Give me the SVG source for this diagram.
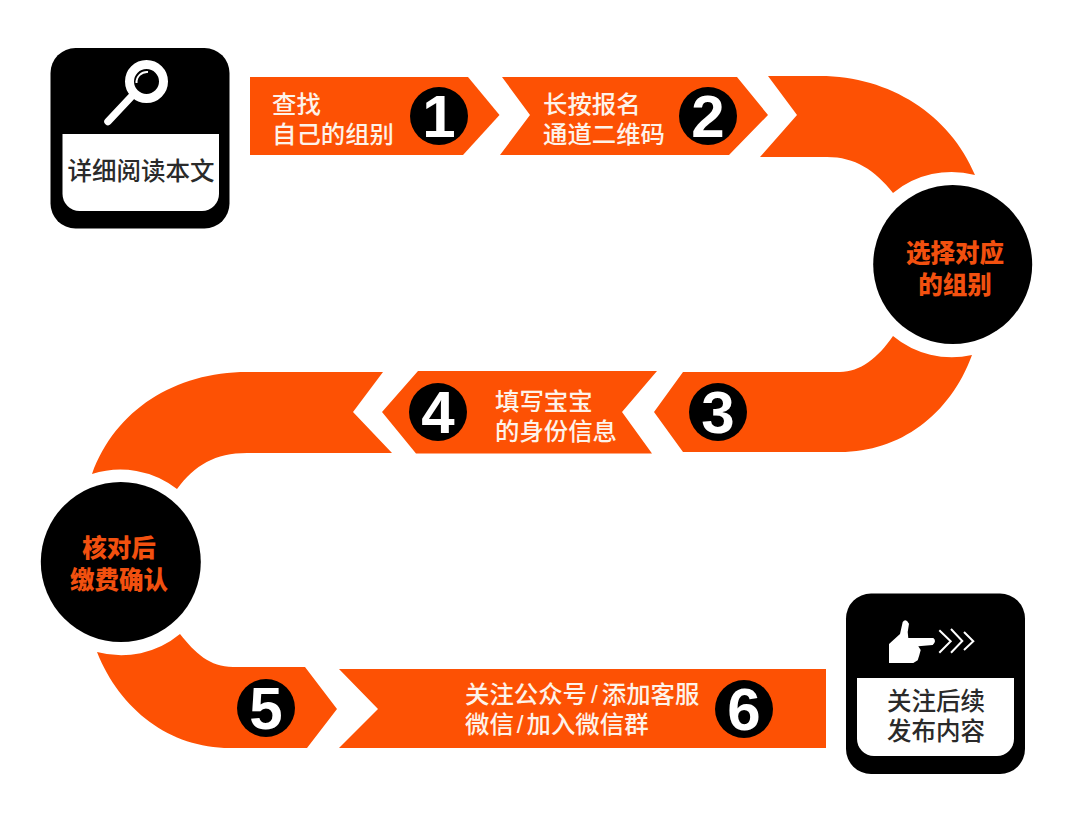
<svg xmlns="http://www.w3.org/2000/svg" width="1080" height="813" viewBox="0 0 1080 813">
<style>
.o{fill:#fd5104}
.k{fill:#000}
.p{fill:#fff}
text{font-family:"Liberation Sans","Noto Sans CJK SC",sans-serif}
.w{fill:#fdf3ea;font-size:24.400px;font-weight:500}
.d{fill:#2a2a2a;font-size:24.500px;font-weight:500;text-anchor:middle}
.c{fill:#f2500f;font-size:24.500px;font-weight:900;text-anchor:middle}
.n{fill:#fff;font-family:"Liberation Sans",sans-serif;font-size:60px;font-weight:700;text-anchor:middle}
</style>
<rect width="1080" height="813" fill="#fff"/>
<g id="connectors">
<path class="o" d="M250 77H468L499.500 115L463 155H250Z"/>
<path class="o" d="M502 77H737L768 115L729 155H500L530 115Z"/>
<path class="o" d="M768 76H820C890 76 950 115 975 175A92 92 0 0 0 893 193C875 170 855 157 827 157H760L797 115Z"/>
<path class="o" d="M893 336A92 92 0 0 0 972 355C950 415 900 452 840 452H683L654 412L683 372H840C860 372 878 358 893 336Z"/>
<path class="o" d="M418 371H657L622 412L652 453.500H416L382 412Z"/>
<path class="o" d="M383 372L353 412L392 453H247C215 453 195 465 177 489A92 92 0 0 0 92 474C115 410 175 372 247 372Z"/>
<path class="o" d="M97 652A92 92 0 0 0 180 634C195 653 210 667 233 667H305L337 709L307 748H230C170 748 120 710 97 652Z"/>
<path class="o" d="M339 669H826V748H339L378 709Z"/>
</g>
<g id="card-read">
<rect class="k" x="50.500" y="48" width="179" height="180.500" rx="25"/>
<path class="p" d="M62.500 134H219V194A17 17 0 0 1 202 211H79.500A17 17 0 0 1 62.500 194Z"/>
<circle cx="146.500" cy="81.500" r="17" fill="none" stroke="#fff" stroke-width="9"/>
<path d="M131 97L108 121.500" fill="none" stroke="#fff" stroke-width="7.500" stroke-linecap="round"/>
<path d="M136.500 83A10.500 10.500 0 0 1 148 72" fill="none" stroke="#fff" stroke-width="2"/>
<text class="d" x="141" y="180">详细阅读本文</text>
</g>
<g id="step-1"><text class="w" x="272" y="113">查找</text><text class="w" x="272" y="143">自己的组别</text><circle class="k" cx="439" cy="116" r="29"/><text class="n" x="439" y="137">1</text></g>
<g id="step-2"><text class="w" x="543" y="113">长按报名</text><text class="w" x="543" y="143">通道二维码</text><circle class="k" cx="708" cy="116" r="29"/><text class="n" x="708" y="137">2</text></g>
<g id="node-choose"><circle class="k" cx="952.700" cy="264.500" r="79.500"/><text class="c" x="955" y="262">选择对应</text><text class="c" x="955" y="294">的组别</text></g>
<g id="step-3"><circle class="k" cx="718" cy="412" r="29"/><text class="n" x="718" y="433">3</text></g>
<g id="step-4"><circle class="k" cx="438" cy="412" r="29"/><text class="n" x="438" y="433">4</text><text class="w" x="495" y="410">填写宝宝</text><text class="w" x="495" y="440">的身份信息</text></g>
<g id="node-check"><circle class="k" cx="120.800" cy="562" r="80"/><text class="c" x="119" y="557">核对后</text><text class="c" x="119" y="589">缴费确认</text></g>
<g id="step-5"><circle class="k" cx="266" cy="708" r="29"/><text class="n" x="266" y="729">5</text></g>
<g id="step-6"><text class="w" x="465" y="703">关注公众号<tspan dx="4">/</tspan><tspan dx="4">添加客服</tspan></text><text class="w" x="465" y="733">微信<tspan dx="3">/</tspan><tspan dx="3">加入微信群</tspan></text><circle class="k" cx="744" cy="709" r="29"/><text class="n" x="744" y="730">6</text></g>
<g id="card-follow">
<rect class="k" x="846" y="593.500" width="179" height="180.500" rx="25"/>
<path class="p" d="M857 678H1014V739A17 17 0 0 1 997 756H874A17 17 0 0 1 857 739Z"/>
<path class="p" d="M889 663V644L900 634L902.700 622Q905.700 618 909 623.700L907.700 632L908.300 638H933.300Q937 641 932.700 645L918.300 646.300L920.700 650L919.300 655.300L917.700 660.300L913.300 663Z"/>
<path d="M939.300 630.300L950.700 641.300L939.300 652.700M951 629L962.300 641L951 652.700M964 632L973.300 641.300L964 650" fill="none" stroke="#fff" stroke-width="2"/>
<text class="d" x="936" y="710">关注后续</text>
<text class="d" x="936" y="740">发布内容</text>
</g>
</svg>
